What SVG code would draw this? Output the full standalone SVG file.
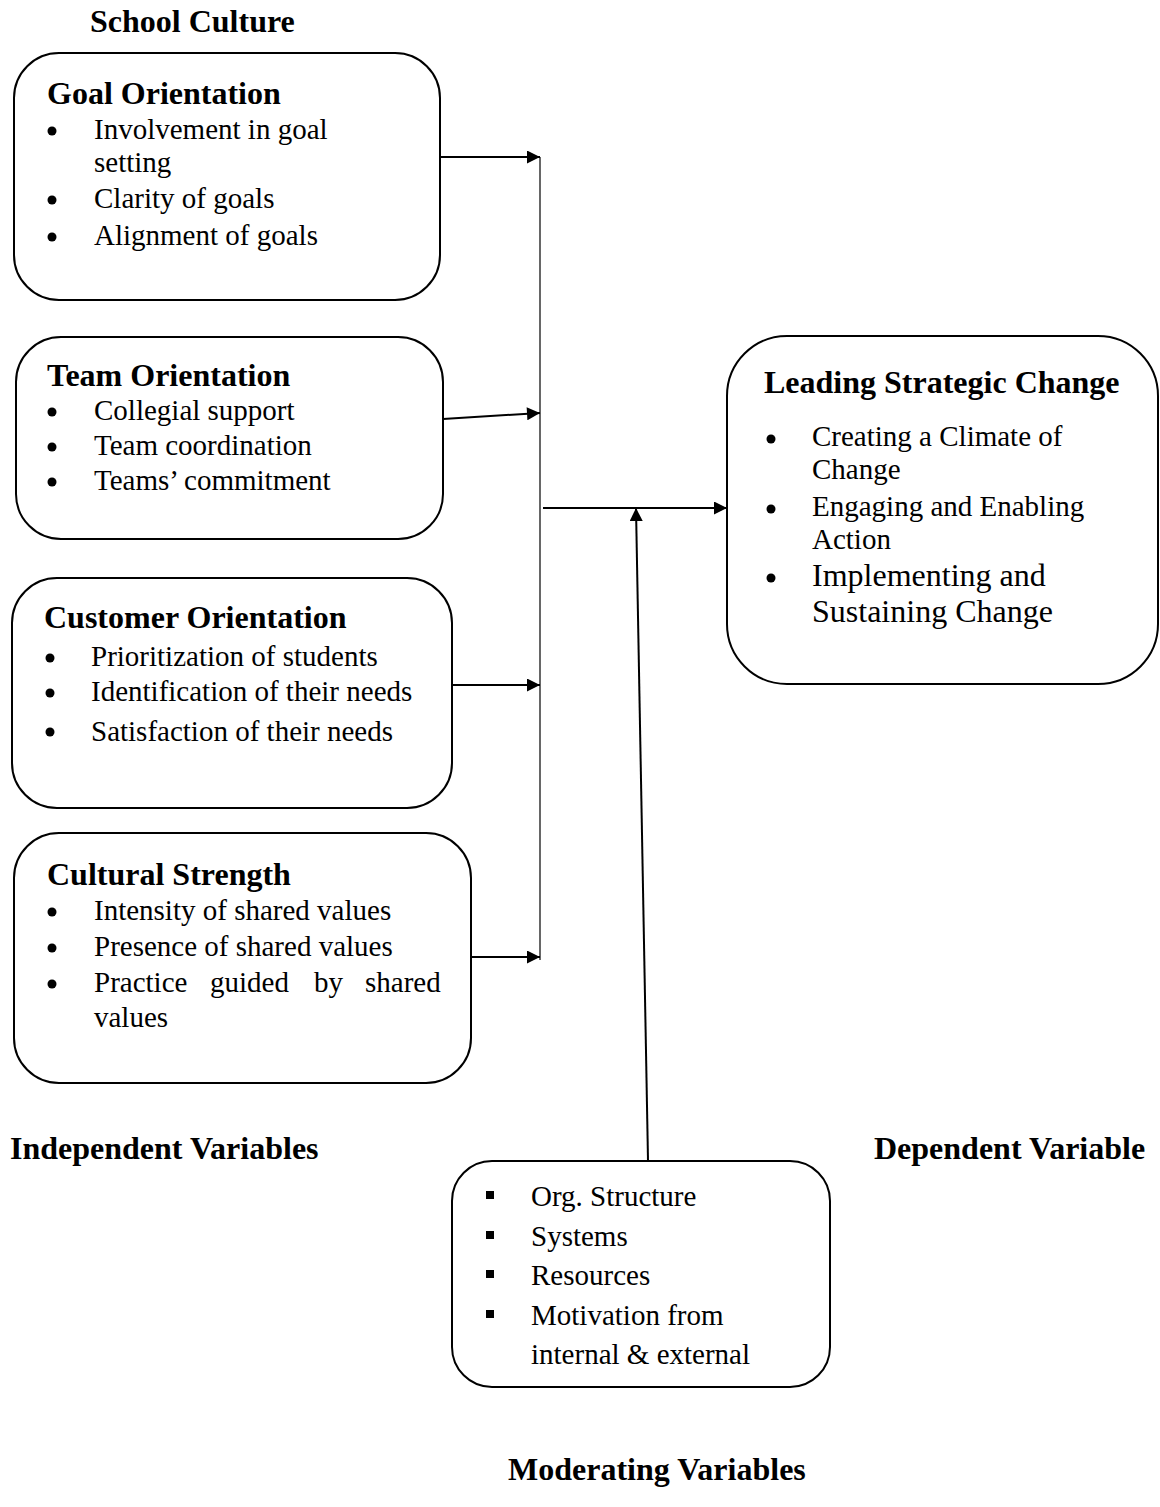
<svg xmlns="http://www.w3.org/2000/svg" width="1160" height="1507" viewBox="0 0 1160 1507">
<style>
.box{fill:#fff;stroke:#000;stroke-width:2}
.t{font-family:"Liberation Serif","Times New Roman",serif;font-size:29px;fill:#000}
.h{font-family:"Liberation Serif","Times New Roman",serif;font-size:32px;font-weight:bold;fill:#000}
.c{stroke:#000;stroke-width:2;fill:none}
.thin{stroke:#000;stroke-width:1.2;fill:none}
</style>
<defs>
<marker id="ah" viewBox="0 0 10 10" refX="10" refY="5" markerWidth="14" markerHeight="13" markerUnits="userSpaceOnUse" orient="auto">
<path d="M0,0 L10,5 L0,10 Z" fill="#000"/>
</marker>
</defs>
<rect width="1160" height="1507" fill="#fff"/>
<text class="h" x="90" y="32">School Culture</text>
<text class="h" x="10" y="1159">Independent Variables</text>
<text class="h" x="874" y="1159">Dependent Variable</text>
<text class="h" x="508" y="1480">Moderating Variables</text>

<g id="goal">
<rect class="box" x="14" y="53" width="426" height="247" rx="45"/>
<text class="h" x="47" y="104">Goal Orientation</text>
<circle cx="52" cy="131" r="4.5"/><text class="t" x="94" y="139">Involvement in goal</text>
<text class="t" x="94" y="172">setting</text>
<circle cx="52" cy="200" r="4.5"/><text class="t" x="94" y="208">Clarity of goals</text>
<circle cx="52" cy="237" r="4.5"/><text class="t" x="94" y="245">Alignment of goals</text>
</g>

<g id="team">
<rect class="box" x="16" y="337" width="427" height="202" rx="45"/>
<text class="h" x="47" y="386">Team Orientation</text>
<circle cx="52" cy="412" r="4.5"/><text class="t" x="94" y="420">Collegial support</text>
<circle cx="52" cy="447" r="4.5"/><text class="t" x="94" y="455">Team coordination</text>
<circle cx="52" cy="482" r="4.5"/><text class="t" x="94" y="490">Teams’ commitment</text>
</g>

<g id="customer">
<rect class="box" x="12" y="578" width="440" height="230" rx="45"/>
<text class="h" x="44" y="628">Customer Orientation</text>
<circle cx="50" cy="658" r="4.5"/><text class="t" x="91" y="666">Prioritization of students</text>
<circle cx="50" cy="693" r="4.5"/><text class="t" x="91" y="701">Identification of their needs</text>
<circle cx="50" cy="732" r="4.5"/><text class="t" x="91" y="741">Satisfaction of their needs</text>
</g>

<g id="cultural">
<rect class="box" x="14" y="833" width="457" height="250" rx="45"/>
<text class="h" x="47" y="885">Cultural Strength</text>
<circle cx="52" cy="912" r="4.5"/><text class="t" x="94" y="920">Intensity of shared values</text>
<circle cx="52" cy="948" r="4.5"/><text class="t" x="94" y="956">Presence of shared values</text>
<circle cx="52" cy="984" r="4.5"/>
<text class="t" y="992"><tspan x="94">Practice</tspan><tspan x="210">guided</tspan><tspan x="314">by</tspan><tspan x="365">shared</tspan></text>
<text class="t" x="94" y="1027">values</text>
</g>

<g id="leading">
<rect class="box" x="727" y="336" width="431" height="348" rx="60"/>
<text class="h" x="764" y="393">Leading Strategic Change</text>
<circle cx="771" cy="439" r="4.5"/><text class="t" x="812" y="446">Creating a Climate of</text>
<text class="t" x="812" y="479">Change</text>
<circle cx="771" cy="509" r="4.5"/><text class="t" x="812" y="516">Engaging and Enabling</text>
<text class="t" x="812" y="549">Action</text>
<circle cx="771" cy="578" r="4.5"/><text class="t" x="812" y="586" style="font-size:32px">Implementing and</text>
<text class="t" x="812" y="622" style="font-size:32px">Sustaining Change</text>
</g>

<g id="moderating">
<rect class="box" x="452" y="1161" width="378" height="226" rx="40"/>
<rect x="486" y="1191" width="8" height="8"/><text class="t" x="531" y="1206">Org. Structure</text>
<rect x="486" y="1231" width="8" height="8"/><text class="t" x="531" y="1246">Systems</text>
<rect x="486" y="1270" width="8" height="8"/><text class="t" x="531" y="1285">Resources</text>
<rect x="486" y="1310" width="8" height="8"/><text class="t" x="531" y="1325">Motivation from</text>
<text class="t" x="531" y="1364">internal &amp; external</text>
</g>

<g id="connectors">
<line class="thin" x1="540" y1="157" x2="540" y2="960"/>
<line class="c" x1="440" y1="157" x2="540" y2="157" marker-end="url(#ah)"/>
<line class="c" x1="443" y1="419" x2="540" y2="413" marker-end="url(#ah)"/>
<line class="c" x1="452" y1="685" x2="540" y2="685" marker-end="url(#ah)"/>
<line class="c" x1="471" y1="957" x2="540" y2="957" marker-end="url(#ah)"/>
<line class="c" x1="543" y1="508" x2="727" y2="508" marker-end="url(#ah)"/>
<line class="c" x1="648" y1="1160" x2="636" y2="508" marker-end="url(#ah)"/>
</g>
</svg>
